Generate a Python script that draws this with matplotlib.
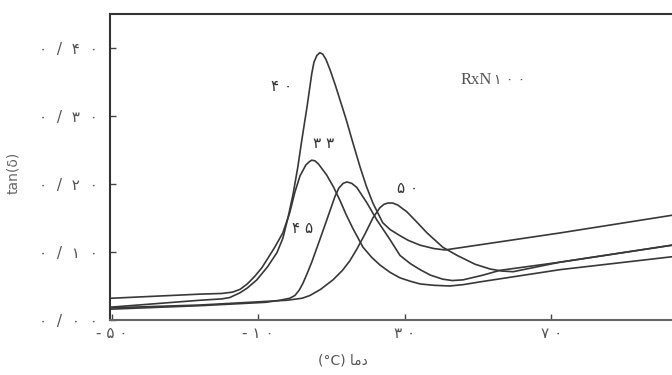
# tan(delta) vs temperature for four samples (scanned figure redraw)
import matplotlib
matplotlib.use("Agg")
import matplotlib.pyplot as plt

# curve "40"
temps_40 = [-50, -26, -20, -17.8, -15, -13, -10.4, -7.5, -4.9, -3.3, -1.9, -0.5, 0.8,
            1.9, 3.3, 4.6, 5.2, 6.0, 6.8, 7.6, 8.5, 9.6, 11.0, 12.3, 14.0, 15.6, 17.8,
            19.5, 21.3, 24.0, 26.0, 28.7, 31.0, 34.2, 38.0, 41.0, 72.4, 103]
tan_40 = [0.019, 0.029, 0.031, 0.033, 0.040, 0.047, 0.059, 0.078, 0.099, 0.120, 0.150,
          0.185, 0.225, 0.265, 0.313, 0.362, 0.379, 0.389, 0.393, 0.391, 0.383, 0.368,
          0.346, 0.324, 0.295, 0.265, 0.225, 0.197, 0.172, 0.143, 0.133, 0.124, 0.117,
          0.110, 0.105, 0.103, 0.128, 0.154]

# curve "33"
temps_33 = [-50, -26, -20, -17, -15, -13, -11, -9, -7.7, -5.5, -3.3, -1.4, 0.0, 1.4,
            3.0, 4.0, 4.6, 5.5, 6.5, 8.7, 10.5, 12.3, 14.0, 15.8, 18.6, 21.0, 23.2,
            26.0, 28.7, 31.5, 34.2, 38.0, 42.3, 46.0, 50.5, 72.4, 103]
tan_33 = [0.032, 0.038, 0.039, 0.041, 0.045, 0.053, 0.064, 0.077, 0.088, 0.107, 0.128,
          0.158, 0.188, 0.212, 0.228, 0.233, 0.235, 0.234, 0.229, 0.213, 0.196, 0.176,
          0.155, 0.135, 0.107, 0.092, 0.081, 0.070, 0.062, 0.057, 0.053, 0.051, 0.050,
          0.052, 0.056, 0.074, 0.093]

# curve "45"
temps_45 = [-50, -26, -8, -4.1, -1.4, 0, 1.2, 2.2, 3.4, 4.6, 6.8, 8.7, 10.9, 12.0,
            13.2, 14.2, 15.5, 16.9, 19.7, 22.4, 26.0, 28.7, 31.5, 34.2, 37.0, 40.4,
            43.0, 45.9, 51.4, 56.0, 72.4, 103]
tan_45 = [0.016, 0.021, 0.026, 0.029, 0.032, 0.036, 0.044, 0.054, 0.069, 0.085, 0.118,
          0.147, 0.181, 0.194, 0.201, 0.203, 0.201, 0.195, 0.172, 0.147, 0.118, 0.095,
          0.083, 0.074, 0.066, 0.060, 0.058, 0.059, 0.066, 0.073, 0.085, 0.110]

# curve "50"
temps_50 = [-50, -26, -2.2, 2, 4.1, 7, 10.4, 13, 15.0, 16.9, 19.1, 21.3, 23.2, 24.3,
            25.4, 26.7, 28.1, 30.6, 33.3, 36.1, 40.4, 44.3, 49.2, 53.3, 56.5, 59.6,
            72.4, 103]
tan_50 = [0.018, 0.022, 0.029, 0.032, 0.036, 0.045, 0.059, 0.073, 0.087, 0.104, 0.126,
          0.150, 0.165, 0.170, 0.172, 0.172, 0.169, 0.159, 0.144, 0.128, 0.107, 0.095,
          0.082, 0.075, 0.072, 0.071, 0.085, 0.110]

# labels (persian digits, spaced like the scan)
curve_labels = ["\u06f4 \u06f0", "\u06f3 \u06f3", "\u06f4 \u06f5", "\u06f5 \u06f0"]
label_pos = [(-3.6, 0.344), (7.7, 0.260), (2.2, 0.135), (30.9, 0.194)]

x_ticks = [-50, -10, 30, 70]
x_ticklabels = ["- \u06f5 \u06f0", "- \u06f1 \u06f0", "\u06f3 \u06f0", "\u06f7 \u06f0"]
y_ticks = [0.0, 0.1, 0.2, 0.3, 0.4]
y_ticklabels = ["\u06f0  /  \u06f0  \u06f0", "\u06f0  /  \u06f1  \u06f0",
                "\u06f0  /  \u06f2  \u06f0", "\u06f0  /  \u06f3  \u06f0",
                "\u06f0  /  \u06f4  \u06f0"]

# "دما" in presentation forms, visual order
xlabel = "(\u00b0C) \ufe8e\ufee3\ufea9"
ylabel = "tan(\u03b4)"

fig = plt.figure(figsize=(6.72, 3.75), dpi=100)
ax = fig.add_axes([0.1637, 0.1467, 0.8363, 0.816])

line_col = "#383838"
for t, v in [(temps_40, tan_40), (temps_33, tan_33), (temps_45, tan_45), (temps_50, tan_50)]:
    ax.plot(t, v, color=line_col, lw=1.2, solid_joinstyle="round")

for lab, (px, py) in zip(curve_labels, label_pos):
    ax.text(px, py, lab, fontsize=11, color="#333333", ha="center", va="center",
            family="DejaVu Sans")

ax.text(45.1, 0.353, "RxN", fontsize=12, color="#555555", ha="left", va="center",
        family="Liberation Serif")
ax.text(54.5, 0.353, "\u06f1 \u06f0 \u06f0", fontsize=10, color="#555555", ha="left",
        va="center", family="DejaVu Sans")

ax.set_xlim(-50.5, 103)
ax.set_ylim(0, 0.45)
ax.set_xticks(x_ticks)
ax.set_xticklabels(x_ticklabels, fontsize=11, color="#555555")
ax.set_yticks(y_ticks)
ax.set_yticklabels(y_ticklabels, fontsize=11, color="#555555")
ax.tick_params(direction="in", length=4, width=1, color="#444444")
ax.tick_params(axis="x", pad=4)
ax.tick_params(axis="y", pad=9)

ax.spines["right"].set_visible(False)
for s in ["left", "top", "bottom"]:
    ax.spines[s].set_color("#333333")
    ax.spines[s].set_linewidth(1.5)
ax.spines["bottom"].set_color("#666666")

ax.set_xlabel(xlabel, fontsize=10, color="#555555")
ax.xaxis.set_label_coords(0.415, -0.11)
ax.set_ylabel(ylabel, fontsize=10, color="#666666")
ax.yaxis.set_label_coords(-0.16, 0.48)

fig.savefig("out.png", dpi=100)
